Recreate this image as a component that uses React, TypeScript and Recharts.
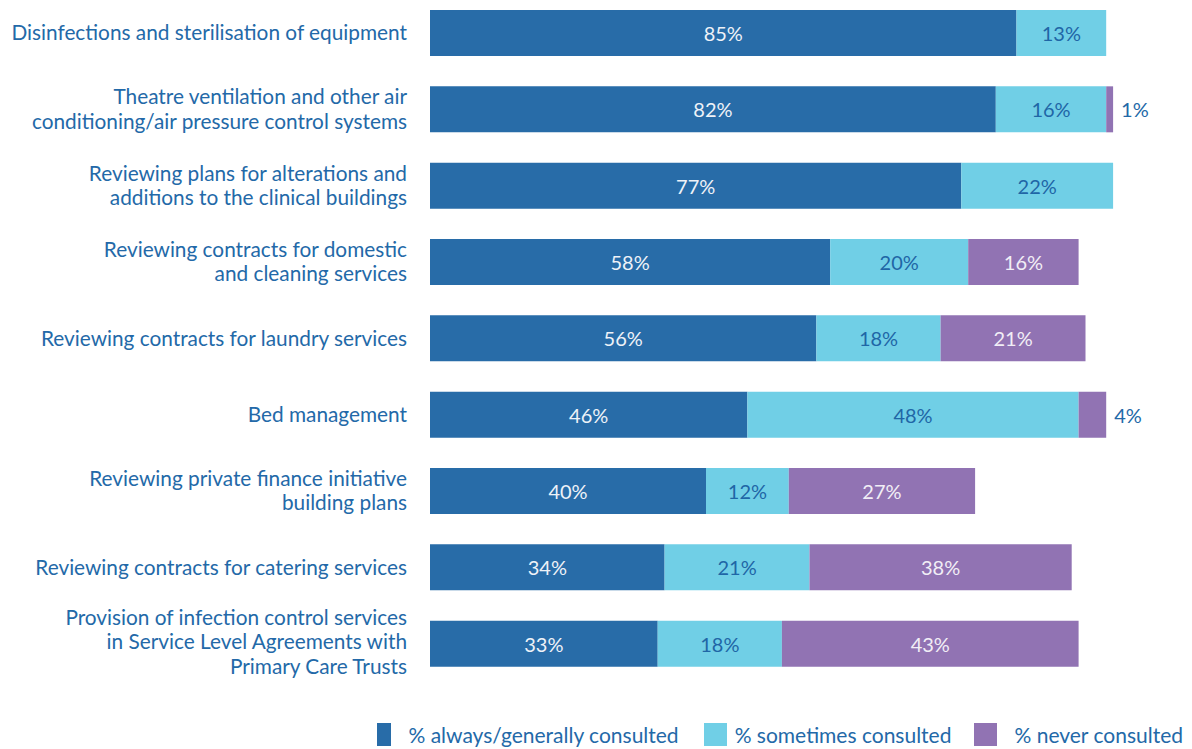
import React from "react";
import { BarChart, Bar, XAxis, YAxis, LabelList, Legend } from "recharts";

const categories = [
  ["Disinfections and sterilisation of equipment"],
  ["Theatre ventilation and other air", "conditioning/air pressure control systems"],
  ["Reviewing plans for alterations and", "additions to the clinical buildings"],
  ["Reviewing contracts for domestic", "and cleaning services"],
  ["Reviewing contracts for laundry services"],
  ["Bed management"],
  ["Reviewing private finance initiative", "building plans"],
  ["Reviewing contracts for catering services"],
  ["Provision of infection control services", "in Service Level Agreements with", "Primary Care Trusts"],
];

const always = [85, 82, 77, 58, 56, 46, 40, 34, 33];
const sometimes = [13, 16, 22, 20, 18, 48, 12, 21, 18];
const never = [null, 1, null, 16, 21, 4, 27, 38, 43];

const seriesNames = ["% always/generally consulted", "% sometimes consulted", "% never consulted"];

const DARK = "#286ca8";
const LIGHT = "#70cfe6";
const PURPLE = "#9173b3";
const TEXT = "#2369a8";
const FONT = "Lato, 'Open Sans', sans-serif";

const data = categories.map((lines, i) => ({
  key: String(i),
  always: always[i],
  sometimes: sometimes[i],
  never: never[i],
}));

const CategoryTick = (props: any) => {
  const { x, y, payload } = props;
  const lines = categories[Number(payload.value)];
  const lh = 24.3;
  const start = y - 1.5 - ((lines.length - 1) * lh) / 2 - (lines.length > 2 ? 1.5 : 0);
  return (
    <text x={x} textAnchor="end" fill={TEXT} fontSize={20.8} fontFamily={FONT}>
      {lines.map((l, j) => (
        <tspan key={j} x={x} y={start + j * lh} dominantBaseline="central">
          {l}
        </tspan>
      ))}
    </text>
  );
};

const makeLabel = (color: string) => (props: any) => {
  const { x, y, width, height, value } = props;
  if (value == null) return null;
  const outside = value < 5;
  return (
    <text
      x={outside ? x + width + 8 : x + width / 2}
      y={y + height / 2}
      textAnchor={outside ? "start" : "middle"}
      dominantBaseline="central"
      fill={outside ? TEXT : color}
      fontSize={20}
      fontFamily={FONT}
    >
      {value}%
    </text>
  );
};

const LegendContent = () => {
  const colors = [DARK, LIGHT, PURPLE];
  const boxW = [14, 23, 23];
  const before = [0, 25, 23];
  const after = [17, 8, 17];
  return (
    <div style={{ display: "flex", justifyContent: "flex-end", alignItems: "center", fontFamily: FONT, fontSize: 21, color: TEXT, paddingRight: 9 }}>
      {seriesNames.map((n, i) => (
        <div key={n} style={{ display: "flex", alignItems: "center", marginLeft: before[i] }}>
          <div style={{ width: boxW[i], height: 23, background: colors[i], marginRight: after[i] }} />
          <span style={{ whiteSpace: "nowrap" }}>{n}</span>
        </div>
      ))}
    </div>
  );
};

export default function App() {
  return (
    <div style={{ position: "absolute", left: 0, top: 0, background: "#fff" }}>
      <BarChart
        width={1192}
        height={749}
        data={data}
        layout="vertical"
        margin={{ top: -5, right: 72, left: 0, bottom: 42 }}
        barSize={46}
      >
        <XAxis type="number" domain={[0, 100]} hide />
        <YAxis
          type="category"
          dataKey="key"
          width={430}
          axisLine={false}
          tickLine={false}
          tickSize={0}
          tickMargin={23}
          tick={<CategoryTick />}
          interval={0}
        />
        <Legend
          verticalAlign="bottom"
          align="right"
          content={<LegendContent />}
          wrapperStyle={{ bottom: 2, left: 0, width: 1192 }}
        />
        <Bar dataKey="always" stackId="a" fill={DARK} isAnimationActive={false}>
          <LabelList dataKey="always" content={makeLabel("#eef2f8")} />
        </Bar>
        <Bar dataKey="sometimes" stackId="a" fill={LIGHT} isAnimationActive={false}>
          <LabelList dataKey="sometimes" content={makeLabel("#1f66a6")} />
        </Bar>
        <Bar dataKey="never" stackId="a" fill={PURPLE} isAnimationActive={false}>
          <LabelList dataKey="never" content={makeLabel("#f1eef6")} />
        </Bar>
      </BarChart>
    </div>
  );
}
